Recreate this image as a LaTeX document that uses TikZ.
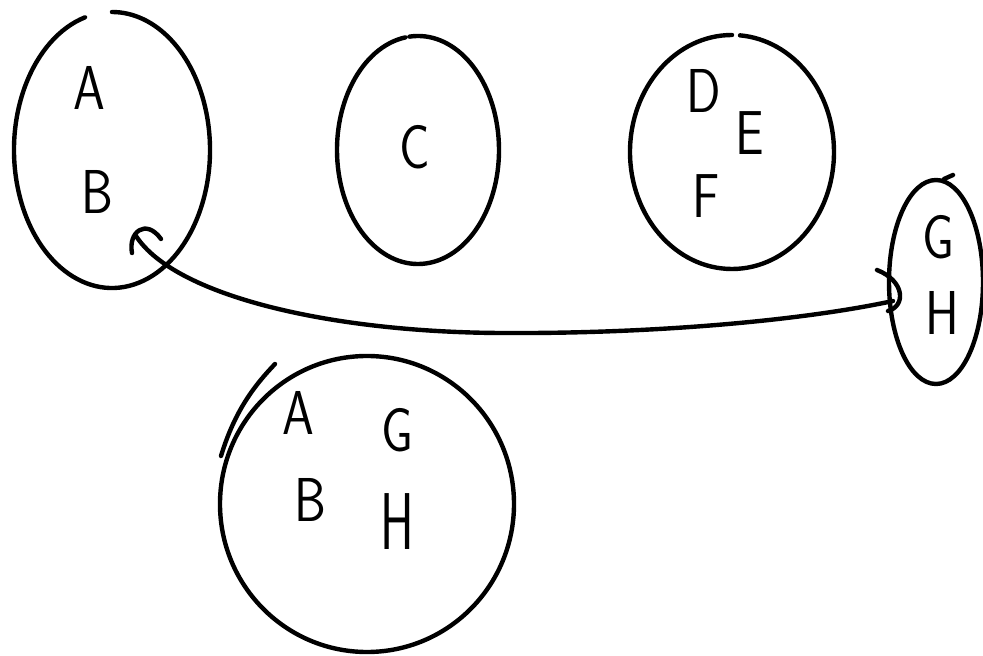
\documentclass[tikz,border=0pt]{standalone}
\usetikzlibrary{calc}

\tikzset{
  pen/.style={line width=4.4pt, line cap=round, line join=round, black},
  glyph/.style={font=\sffamily\fontsize{62}{62}\selectfont, inner sep=0pt, xscale=0.82},
  tallglyph/.style={glyph, yscale=1.3},
}

\begin{document}
\begin{tikzpicture}[x=1pt,y=1pt]
  \useasboundingbox[fill=white] (0,0) rectangle (983,656);

  % centres of the hand-drawn sets
  \coordinate (setAB)  at (112,506);
  \coordinate (setC)   at (418,506);
  \coordinate (setDEF) at (732,504);
  \coordinate (setGH)  at (936,374);
  \coordinate (union)  at (367,152);

  % set {A,B}: open at the top
  \draw[pen] ($(setAB)+(106:98 and 138)$)
    arc[start angle=106, end angle=450, x radius=98, y radius=138];
  % set {C}
  \draw[pen] ($(setC)+(99:81 and 114)$)
    arc[start angle=99, end angle=456, x radius=81, y radius=114];
  % set {D,E,F}
  \draw[pen] ($(setDEF)+(90:102 and 117)$)
    arc[start angle=90, end angle=445.5, x radius=102, y radius=117];
  % set {G,H}
  \draw[pen] (setGH) ellipse[x radius=47, y radius=102];
  \draw[pen] (944,477) -- (953,481);
  % merged set {A,B,G,H}
  \draw[pen] (union) ellipse[x radius=147, y radius=148];
  \draw[pen] (221,200) .. controls (235,246) and (255,271) .. (275,292);

  % elements
  \node[glyph] (a1) at (89,568) {A};
  \node[glyph] (b1) at (97,464) {B};
  \node[glyph] (c1) at (415,509) {C};
  \node[glyph] (d1) at (704,565) {D};
  \node[glyph] (e1) at (750,523) {E};
  \node[glyph] (f1) at (706,460) {F};
  \node[glyph] (g1) at (938,419) {G};
  \node[glyph] (h1) at (942,343) {H};
  \node[glyph] (a2) at (298,243) {A};
  \node[glyph] (g2) at (397,226) {G};
  \node[glyph] (b2) at (310,156) {B};
  \node[tallglyph] (h2) at (397,134) {H};

  % moving {G,H} into {A,B}
  \coordinate (tail) at (893,355);
  \coordinate (via)  at (500,323);
  \coordinate (tip)  at (136,420);
  \draw[pen] (tail) .. controls (800,335) and (650,322) .. (via)
                    .. controls (330,324) and (175,360) .. (tip);
  % hand-drawn arrow head and tail hook
  \draw[pen] (132,403) .. controls (128,424) and (146,438) .. (161,417);
  \draw[pen] (877,386) .. controls (905,375) and (906,350) .. (888,345);
\end{tikzpicture}
\end{document}
